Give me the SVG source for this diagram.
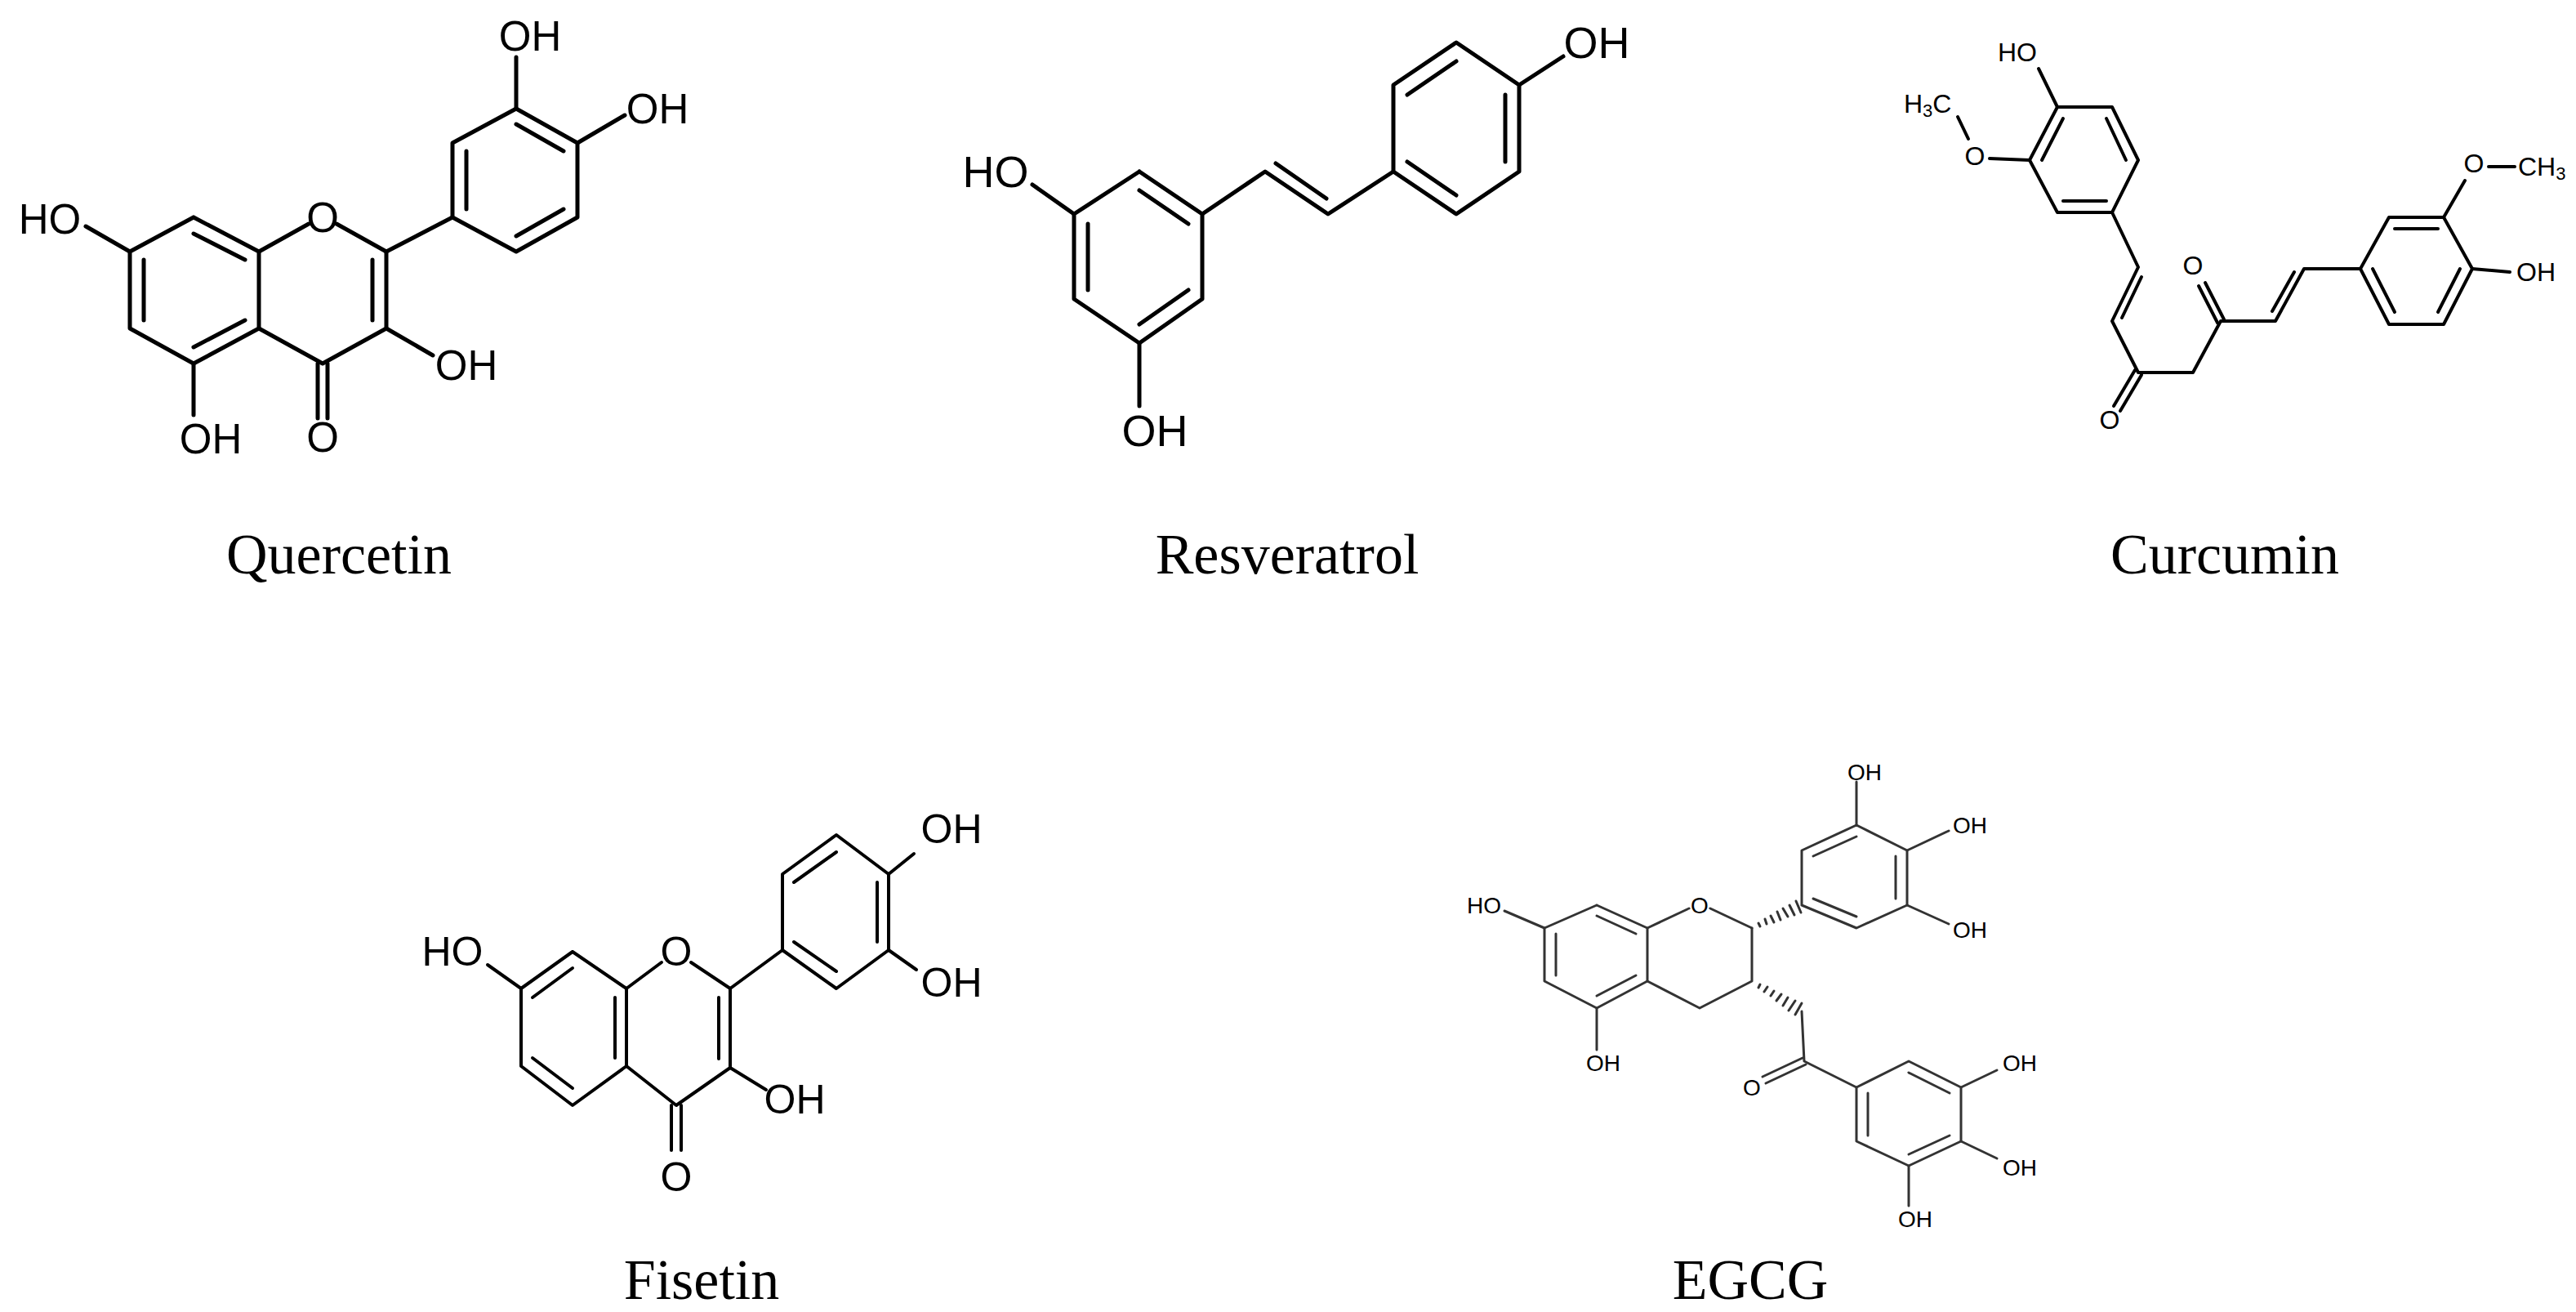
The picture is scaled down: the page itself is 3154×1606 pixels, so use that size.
<svg xmlns="http://www.w3.org/2000/svg" width="3154" height="1606" viewBox="0 0 3154 1606">
<style>
.b{stroke:#000;fill:none;stroke-linecap:round;stroke-linejoin:round}
.q{stroke-width:5}.c{stroke-width:4}.e{stroke-width:3;stroke:#333}
.a{font-family:"Liberation Sans",Arial,sans-serif;text-anchor:middle;dominant-baseline:central;fill:#000}
.lab{font-family:"Liberation Serif","Times New Roman",serif;font-size:70px;text-anchor:middle;fill:#000}
</style>
<rect width="3154" height="1606" fill="#fff"/>
<g id="quercetin">
<g class="b q">
<polyline points="237,266 159,308 159,402 237,445 317,402 317,308 237,266"/>
<line x1="237" y1="286" x2="300" y2="318"/><line x1="176" y1="318" x2="176" y2="392"/><line x1="237" y1="425" x2="300" y2="392"/>
<line x1="317" y1="308" x2="378" y2="274"/><line x1="412" y1="274" x2="473" y2="308"/>
<polyline points="473,308 473,402 395,445 317,402"/>
<line x1="456" y1="318" x2="456" y2="392"/>
<line x1="389" y1="445" x2="389" y2="512"/><line x1="401" y1="445" x2="401" y2="512"/>
<line x1="473" y1="308" x2="554" y2="266"/>
<polyline points="554,266 554,175 632,133 707,175 707,266 632,308 554,266"/>
<line x1="571" y1="256" x2="571" y2="185"/><line x1="632" y1="152" x2="690" y2="185"/><line x1="690" y1="256" x2="632" y2="289"/>
<line x1="159" y1="308" x2="105" y2="277"/><line x1="237" y1="445" x2="237" y2="508"/><line x1="473" y1="402" x2="530" y2="435"/>
<line x1="632" y1="133" x2="632" y2="70"/><line x1="707" y1="175" x2="765" y2="141"/>
</g>
<g class="a" font-size="51">
<text x="395" y="266">O</text><text x="395" y="535">O</text><text x="61" y="268">HO</text><text x="258" y="537">OH</text>
<text x="571" y="447">OH</text><text x="649" y="44">OH</text><text x="805" y="133">OH</text>
</g>
<text class="lab" x="415" y="702">Quercetin</text>
</g>
<g id="resveratrol">
<g class="b q">
<polyline points="1395,210 1472,262 1472,366 1395,420 1315,366 1315,262 1395,210"/>
<line x1="1395" y1="233" x2="1455" y2="274"/><line x1="1332" y1="274" x2="1332" y2="355"/><line x1="1395" y1="397" x2="1455" y2="355"/>
<polyline points="1472,262 1549,210 1626,262 1706,210"/>
<line x1="1562" y1="200" x2="1624" y2="243"/>
<polyline points="1706,210 1783,262 1860,210 1860,104 1783,52 1706,104 1706,210"/>
<line x1="1723" y1="116" x2="1783" y2="75"/><line x1="1843" y1="116" x2="1843" y2="198"/><line x1="1723" y1="198" x2="1783" y2="239"/>
<line x1="1315" y1="262" x2="1264" y2="226"/><line x1="1395" y1="420" x2="1395" y2="497"/><line x1="1860" y1="104" x2="1914" y2="69"/>
</g>
<g class="a" font-size="54">
<text x="1219" y="210">HO</text><text x="1414" y="527">OH</text><text x="1955" y="52">OH</text>
</g>
<text class="lab" x="1576" y="702">Resveratrol</text>
</g>
<g id="curcumin">
<g class="b c">
<polyline points="2519,131 2586,131 2618,196 2586,260 2519,260 2485,196 2519,131"/>
<line x1="2500" y1="196" x2="2526" y2="145"/><line x1="2579" y1="145" x2="2603" y2="196"/><line x1="2579" y1="246" x2="2526" y2="246"/>
<line x1="2519" y1="131" x2="2496" y2="84"/><line x1="2485" y1="196" x2="2436" y2="194"/><line x1="2410" y1="170" x2="2397" y2="143"/>
<polyline points="2586,260 2618,327 2586,393 2618,456 2685,456 2719,393 2786,393 2821,329 2890,329"/>
<line x1="2622" y1="339" x2="2598" y2="389"/>
<line x1="2622" y1="459" x2="2596" y2="503"/><line x1="2614" y1="453" x2="2588" y2="497"/>
<line x1="2723" y1="391" x2="2700" y2="346"/><line x1="2715" y1="395" x2="2692" y2="350"/>
<line x1="2782" y1="381" x2="2809" y2="333"/>
<polyline points="2890,329 2925,266 2992,266 3027,329 2992,397 2925,397 2890,329"/>
<line x1="2932" y1="280" x2="2985" y2="280"/><line x1="3012" y1="329" x2="2985" y2="382"/><line x1="2932" y1="382" x2="2905" y2="329"/>
<line x1="2992" y1="266" x2="3018" y2="221"/><line x1="3047" y1="204" x2="3079" y2="204"/><line x1="3027" y1="329" x2="3073" y2="333"/>
</g>
<g class="a" font-size="32">
<text x="2470" y="64">HO</text><text x="2418" y="191">O</text><text x="2685" y="325">O</text><text x="2583" y="514">O</text>
<text x="3029" y="200">O</text><text x="3105" y="333">OH</text>
<text x="2331" y="127" text-anchor="start">H<tspan font-size="22" dy="8">3</tspan><tspan dy="-8">C</tspan></text>
<text x="3083" y="204" text-anchor="start">CH<tspan font-size="22" dy="8">3</tspan></text>
</g>
<text class="lab" x="2724" y="702">Curcumin</text>
</g>
<g id="fisetin">
<g class="b c">
<polyline points="701,1165 638,1210 638,1305 701,1353 767,1305 767,1210 701,1165"/>
<line x1="701" y1="1185" x2="652" y2="1221"/><line x1="753" y1="1221" x2="753" y2="1295"/><line x1="652" y1="1295" x2="701" y2="1332"/>
<line x1="767" y1="1210" x2="810" y2="1178"/><line x1="846" y1="1178" x2="894" y2="1210"/>
<polyline points="894,1210 894,1307 828,1353 767,1305"/>
<line x1="880" y1="1221" x2="880" y2="1296"/>
<line x1="822" y1="1353" x2="822" y2="1408"/><line x1="834" y1="1353" x2="834" y2="1408"/>
<line x1="894" y1="1210" x2="958" y2="1163"/>
<polyline points="958,1163 958,1070 1024,1022 1088,1070 1088,1163 1024,1210 958,1163"/>
<line x1="972" y1="1080" x2="1024" y2="1043"/><line x1="1074" y1="1080" x2="1074" y2="1153"/><line x1="972" y1="1153" x2="1024" y2="1189"/>
<line x1="638" y1="1210" x2="597" y2="1181"/><line x1="894" y1="1307" x2="938" y2="1334"/>
<line x1="1088" y1="1070" x2="1119" y2="1045"/><line x1="1088" y1="1163" x2="1122" y2="1187"/>
</g>
<g class="a" font-size="50">
<text x="828" y="1165">O</text><text x="828" y="1441">O</text><text x="554" y="1165">HO</text>
<text x="973" y="1346">OH</text><text x="1165" y="1015">OH</text><text x="1165" y="1203">OH</text>
</g>
<text class="lab" x="859" y="1590">Fisetin</text>
</g>
<g id="egcg">
<g class="b e">
<polyline points="1955,1108 1891,1136 1891,1201 1955,1234 2017,1201 2017,1136 1955,1108"/>
<line x1="1955" y1="1121" x2="2003" y2="1143"/><line x1="1905" y1="1143" x2="1905" y2="1194"/><line x1="1955" y1="1219" x2="2003" y2="1194"/>
<line x1="2017" y1="1136" x2="2068" y2="1112"/><line x1="2094" y1="1112" x2="2145" y2="1136"/>
<polyline points="2145,1136 2145,1201 2081,1234 2017,1201"/>
<line x1="1891" y1="1136" x2="1842" y2="1115"/><line x1="1955" y1="1234" x2="1955" y2="1285"/>
<line x1="2153" y1="1130" x2="2155" y2="1134"/><line x1="2161" y1="1125" x2="2163" y2="1131"/><line x1="2168" y1="1121" x2="2172" y2="1129"/>
<line x1="2176" y1="1116" x2="2180" y2="1126"/><line x1="2183" y1="1112" x2="2189" y2="1122"/><line x1="2191" y1="1108" x2="2197" y2="1120"/><line x1="2199" y1="1103" x2="2205" y2="1117"/>
<polyline points="2206,1108 2206,1041 2273,1010 2335,1041 2335,1108 2273,1136 2206,1108"/>
<line x1="2220" y1="1048" x2="2273" y2="1024"/><line x1="2321" y1="1048" x2="2321" y2="1100"/><line x1="2273" y1="1122" x2="2220" y2="1100"/>
<line x1="2273" y1="1010" x2="2273" y2="957"/><line x1="2335" y1="1041" x2="2386" y2="1017"/><line x1="2335" y1="1108" x2="2386" y2="1131"/>
<line x1="2155" y1="1205" x2="2153" y2="1209"/><line x1="2164" y1="1208" x2="2160" y2="1214"/><line x1="2172" y1="1213" x2="2168" y2="1219"/>
<line x1="2181" y1="1217" x2="2175" y2="1225"/><line x1="2189" y1="1221" x2="2183" y2="1231"/><line x1="2198" y1="1225" x2="2190" y2="1237"/><line x1="2206" y1="1228" x2="2198" y2="1242"/>
<polyline points="2206,1238 2209,1299 2273,1331"/>
<line x1="2211" y1="1303" x2="2162" y2="1326"/><line x1="2207" y1="1295" x2="2158" y2="1318"/>
<polyline points="2273,1331 2337,1299 2401,1331 2401,1397 2337,1427 2273,1397 2273,1331"/>
<line x1="2337" y1="1313" x2="2387" y2="1338"/><line x1="2387" y1="1390" x2="2337" y2="1413"/><line x1="2287" y1="1390" x2="2287" y2="1338"/>
<line x1="2401" y1="1331" x2="2445" y2="1310"/><line x1="2401" y1="1397" x2="2445" y2="1418"/><line x1="2337" y1="1427" x2="2337" y2="1476"/>
</g>
<g class="a" font-size="28" fill="#222">
<text x="2081" y="1108">O</text><text x="1817" y="1108">HO</text><text x="1963" y="1301">OH</text><text x="2145" y="1331">O</text>
<text x="2283" y="945">OH</text><text x="2412" y="1010">OH</text><text x="2412" y="1138">OH</text>
<text x="2473" y="1301">OH</text><text x="2473" y="1429">OH</text><text x="2345" y="1492">OH</text>
</g>
<text class="lab" x="2143" y="1590">EGCG</text>
</g>
</svg>
